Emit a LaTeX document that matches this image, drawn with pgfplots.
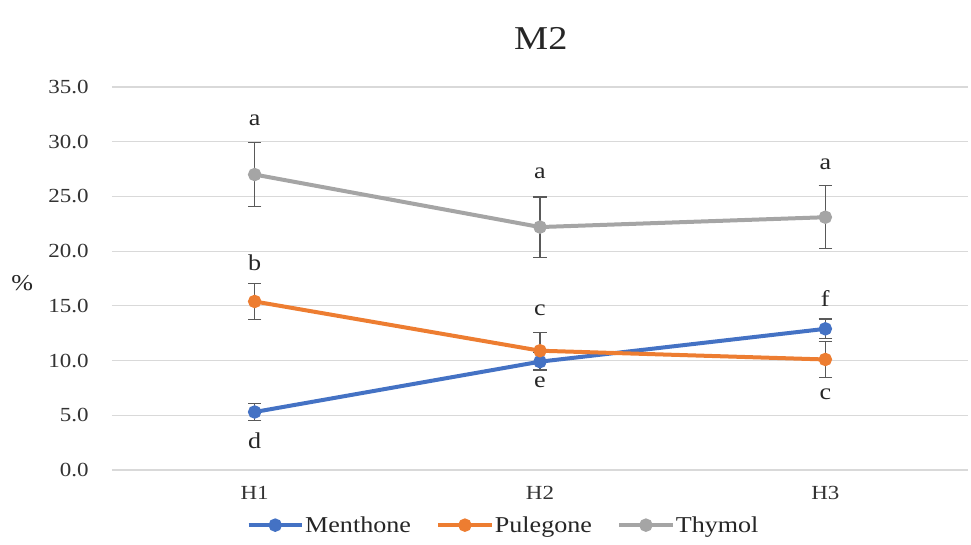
\documentclass[border=0pt]{standalone}
\usepackage{fontspec}
\setmainfont[FakeStretch=1.15]{Liberation Serif}
\usepackage{pgfplots}
\pgfplotsset{compat=1.18}
\definecolor{cblue}{HTML}{4472C4}
\definecolor{corange}{HTML}{ED7D31}
\definecolor{cgray}{HTML}{A5A5A5}
\definecolor{errc}{HTML}{595959}
\definecolor{gridc}{HTML}{D9D9D9}
\begin{document}
\begin{tikzpicture}[x=1pt,y=1pt]
\begin{axis}[
  at={(0,0)}, anchor=south west,
  scale only axis, width=642pt, height=287.25pt,
  xmin=-0.5, xmax=2.5, ymin=0, ymax=35,
  xtick={0,1,2}, xticklabels={H1,H2,H3},
  ytick={0,5,...,35},
  /pgf/number format/assume math mode=true,
  yticklabel={\pgfmathprintnumber[fixed,fixed zerofill,precision=1]{\tick}},
  ymajorgrids, major grid style={gridc, line width=0.9pt},
  axis line style={draw=none},
  major tick length=0pt,
  ticklabel style={font=\fontsize{15}{18}\selectfont, text=black!80},
  yticklabel style={xshift=-14pt},
  xticklabel style={yshift=-9pt},
  clip=false,
  legend style={at={(0.457,-0.144)}, anchor=center, draw=none, legend columns=3,
    font=\fontsize{17}{19}\selectfont, text=black!85,
    /tikz/every odd column/.append style={column sep=0pt},
    /tikz/every even column/.append style={column sep=18pt},
    nodes={inner xsep=1pt}},
  legend cell align=left,
  legend image code/.code={\draw[#1, line width=3pt] (0pt,0pt) -- (40pt,0pt); \fill[#1] (20pt,0pt) circle (3.5pt);},
  error bars/error bar style={errc, line width=0.8pt},
  error bars/error mark options={rotate=90, mark size=5pt, line width=0.8pt, errc},
]
\addplot[cblue, line width=3pt, mark=*, mark size=3.5pt, error bars/.cd, y dir=both, y explicit]
  table[x=x, y=y, y error=e] {
x y e
0 5.3 0.8
1 9.9 0.85
2 12.9 0.9
};
\addlegendentry{Menthone}
\addplot[corange, line width=3pt, mark=*, mark size=3.5pt, error bars/.cd, y dir=both, y explicit]
  table[x=x, y=y, y error=e] {
x y e
0 15.4 1.65
1 10.9 1.7
2 10.1 1.65
};
\addlegendentry{Pulegone}
\addplot[cgray, line width=3pt, mark=*, mark size=3.5pt, error bars/.cd, y dir=both, y explicit]
  table[x=x, y=y, y error=e] {
x y e
0 27.0 2.9
1 22.2 2.75
2 23.1 2.9
};
\addlegendentry{Thymol}
\begin{scope}[every node/.style={font=\fontsize{17}{19}\selectfont, text=black!85}]
\node at (axis cs:0,32.0) {a};
\node at (axis cs:0,18.9) {b};
\node at (axis cs:0,2.7) {d};
\node at (axis cs:1,27.1) {a};
\node at (axis cs:1,14.6) {c};
\node at (axis cs:1,8.0) {e};
\node at (axis cs:2,27.9) {a};
\node at (axis cs:2,15.7) {f};
\node at (axis cs:2,6.9) {c};
\end{scope}
\node[font=\fontsize{25}{30}\selectfont, text=black!85] at (rel axis cs:0.501,1.128) {M2};
\node[font=\fontsize{17}{19}\selectfont, text=black!85] at (rel axis cs:-0.105,0.488) {\%};
\end{axis}
\pgfresetboundingbox
\path[use as bounding box] (-84pt,-56.25pt) rectangle (644.25pt,352.5pt);
\end{tikzpicture}
\end{document}
